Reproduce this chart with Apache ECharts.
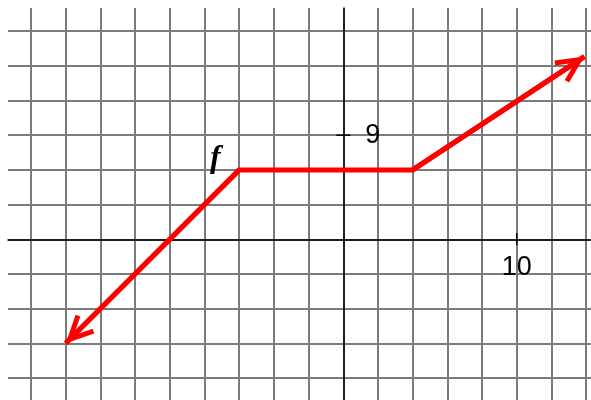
<!DOCTYPE html>
<html><head><meta charset="utf-8">
<script src="https://cdn.jsdelivr.net/npm/echarts@6/dist/echarts.min.js"></script>
<style>html,body{margin:0;padding:0;background:#fff}#c{width:591px;height:400px}</style>
</head><body><div id="c"></div>
<script>
// ---- data ----
const xPoints = [-16, -6, 4, 13.9];
const yPoints = [-9, 6, 6, 15.8];
const xLabelValues = [10];
const yLabelValues = [9];
const functionName = 'f';
const namedPointIndex = 1;
const xRange = [-19.33, 14.28];
const yRange = [-13.9, 20];

// ---- chart ----
const pts = xPoints.map((x, i) => [x, yPoints[i]]);
const RED = '#ff0000';
const ARROW = 'path://M0,0 L13.2,27.1 L8.7,29.3 L0,11.4 L-8.7,29.3 L-13.2,27.1 Z M0,-29.3';
const ARROW_SIZE = [26.4, 58.6];

const gridLine = { color: '#7b7b7b', width: 2 };
const labelFont = { fontFamily: 'Liberation Sans', fontSize: 27, color: '#000', opacity: 1, textBorderWidth: 0 };

const chart = echarts.init(document.getElementById('c'), null, { renderer: 'canvas' });
chart.setOption({
  animation: false,
  backgroundColor: '#fff',
  grid: { left: 8, top: 8, right: 0, bottom: 0, containLabel: false, outerBoundsMode: 'none' },
  xAxis: [
    { type: 'value', min: xRange[0], max: xRange[1], splitNumber: 17, z: 0,
      axisLine: { show: false, onZero: false }, axisTick: { show: false }, axisLabel: { show: false },
      splitLine: { show: true, showMinLine: false, showMaxLine: false, lineStyle: gridLine } },
    { type: 'value', min: xRange[0], max: xRange[1], splitNumber: 17, z: 1, position: 'bottom',
      axisLine: { show: true, onZero: true, onZeroAxisIndex: 1, lineStyle: { color: '#000', width: 1.5 } },
      axisTick: { show: false }, splitLine: { show: false }, axisLabel: { show: false } }
  ],
  yAxis: [
    { type: 'value', min: yRange[0], max: yRange[1], splitNumber: 11, z: 0,
      axisLine: { show: false, onZero: false }, axisTick: { show: false }, axisLabel: { show: false },
      splitLine: { show: true, showMinLine: false, showMaxLine: false, lineStyle: gridLine } },
    { type: 'value', min: yRange[0], max: yRange[1], splitNumber: 11, z: 1, position: 'left',
      axisLine: { show: true, onZero: true, onZeroAxisIndex: 1, lineStyle: { color: '#000', width: 1.5 } },
      axisTick: { show: false }, splitLine: { show: false }, axisLabel: { show: false } }
  ],
  series: [
    {
      type: 'line', xAxisIndex: 0, yAxisIndex: 0, z: 5,
      data: pts, showSymbol: false, symbol: 'none',
      lineStyle: { color: RED, width: 5, join: 'miter' },
      markLine: {
        silent: true, animation: false, z: 5,
        label: { show: false },
        lineStyle: { color: RED, width: 5, type: 'solid' },
        data: [
          [ { coord: pts[1], symbol: 'none' }, { coord: pts[0], symbol: ARROW, symbolSize: ARROW_SIZE } ],
          [ { coord: pts[2], symbol: 'none' }, { coord: pts[pts.length - 1], symbol: ARROW, symbolSize: ARROW_SIZE } ]
        ]
      }
    },
    {
      // axis ticks with their value labels (x axis)
      type: 'scatter', xAxisIndex: 0, yAxisIndex: 0, z: 6, silent: true,
      itemStyle: { color: '#000', opacity: 1 }, symbol: 'rect', symbolSize: [1.5, 12],
      data: xLabelValues.map(v => [v, 0]),
      label: Object.assign({ show: true, position: 'inside', offset: [0, 28],
        formatter: p => String(p.value[0]) }, labelFont)
    },
    {
      // axis ticks with their value labels (y axis)
      type: 'scatter', xAxisIndex: 0, yAxisIndex: 0, z: 6, silent: true,
      itemStyle: { color: '#000', opacity: 1 }, symbol: 'rect', symbolSize: [14, 1.5],
      data: yLabelValues.map(v => [0, v]),
      label: Object.assign({ show: true, position: 'inside', offset: [29.5, 0],
        formatter: p => String(p.value[1]) }, labelFont)
    },
    {
      type: 'scatter', xAxisIndex: 0, yAxisIndex: 0, z: 6, silent: true,
      symbolSize: 1, itemStyle: { color: '#fff', opacity: 0 },
      data: [pts[namedPointIndex]],
      label: { show: true, position: 'inside', formatter: functionName, offset: [-24, -11],
        fontFamily: 'Liberation Serif', fontStyle: 'italic', fontWeight: 'bold', fontSize: 32,
        color: '#000', opacity: 1, textBorderWidth: 0 }
    }
  ]
});
</script></body></html>
